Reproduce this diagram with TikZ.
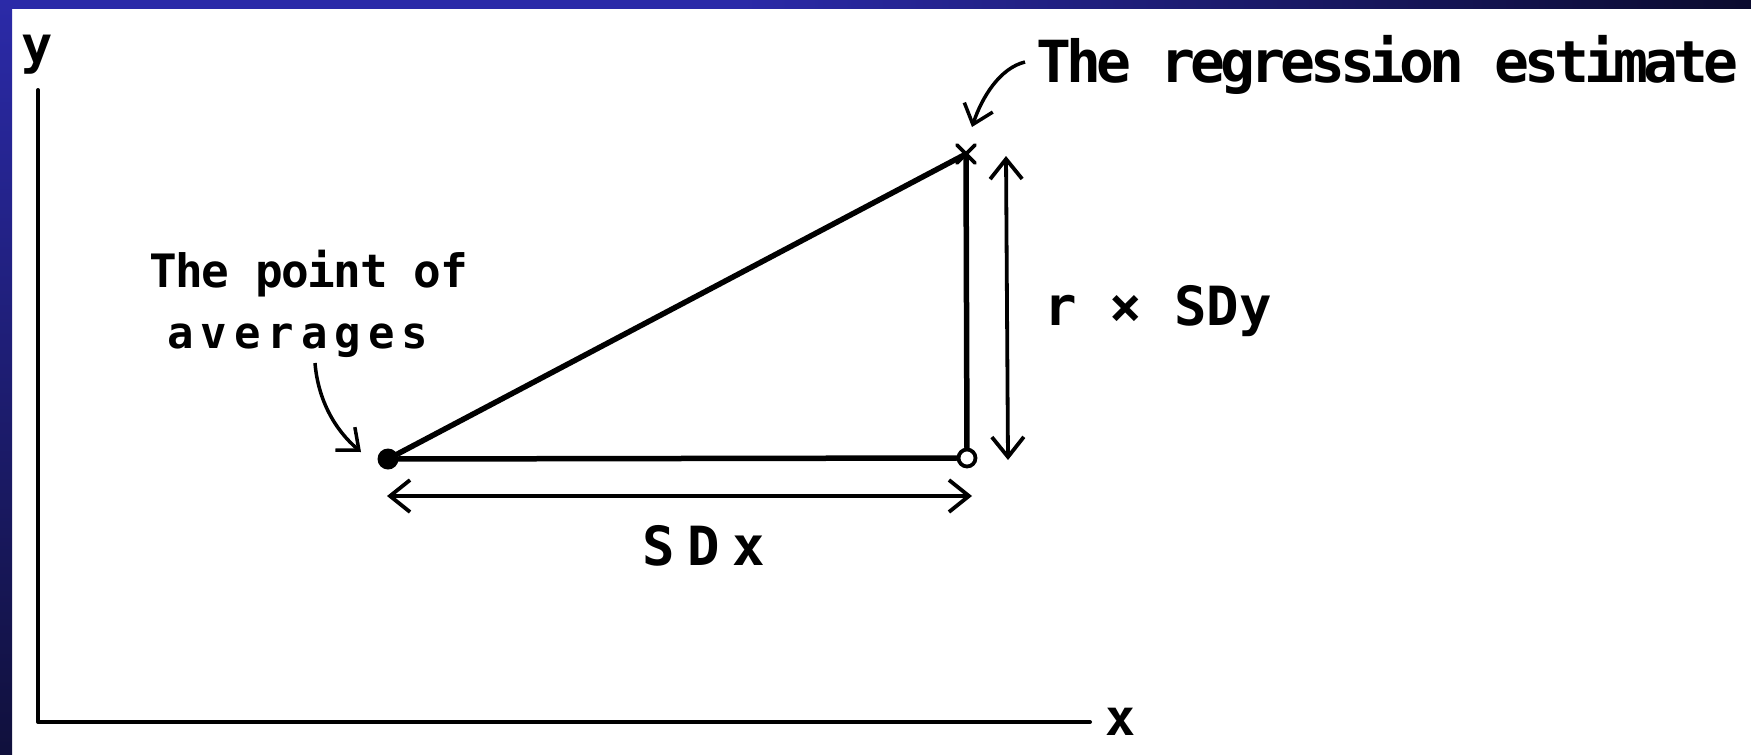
\documentclass[tikz,border=0pt]{standalone}
\usepackage{fontspec}
\newfontfamily\hand{DejaVu Sans Mono}
\usetikzlibrary{arrows.meta}
\definecolor{frameblue}{RGB}{43,42,168}
\definecolor{framenavy}{RGB}{11,11,46}
\definecolor{framedeep}{RGB}{16,16,60}
\pgfdeclarehorizontalshading{topbar}{100bp}{color(0bp)=(frameblue); color(25bp)=(frameblue); color(46bp)=(frameblue); color(75bp)=(framenavy); color(100bp)=(framenavy)}
\tikzset{
  ink/.style={line width=4pt, line cap=round, line join=round},
  tri/.style={line width=5.5pt, line cap=round},
  dimarrow/.style={line width=3.8pt, {Straight Barb[length=20pt,width=32pt]}-{Straight Barb[length=20pt,width=32pt]}},
  callout/.style={line width=3.5pt, -{Straight Barb[length=18pt,width=30pt]}},
  lbl/.style={inner sep=0pt, anchor=base west, text=black},
}
\begin{document}
\begin{tikzpicture}[x=1pt,y=-1pt]
\useasboundingbox (0,0) rectangle (1751,755);
% frame
\fill[white] (0,0) rectangle (1751,755);
\shade[shading=topbar] (0,0) rectangle (1751,8);
\shade[top color=frameblue, bottom color=framedeep] (0,0) rectangle (12,755);

% axes
\coordinate (ytop) at (38,90);
\coordinate (origin) at (38,722);
\coordinate (xend) at (1090,722);
\draw[ink] (ytop) -- (origin) -- (xend);
\node[lbl, font=\hand\bfseries\fontsize{52}{54}\selectfont] (ylab) at (21,63) {y};
\node[lbl, font=\hand\bfseries\fontsize{50}{54}\selectfont] (xlab) at (1105,735) {x};

% points
\node[circle, fill=black, minimum size=21pt, inner sep=0pt] (avg) at (388,459) {};
\node[circle, draw=black, line width=3.8pt, minimum size=17pt, inner sep=0pt] (foot) at (967,458) {};
\coordinate (est) at (966,154);

% triangle
\draw[tri] (avg) -- (est);
\draw[tri] (avg) -- (foot);
\draw[tri] (foot) -- (est);
% cross mark at estimate
\draw[line width=3.8pt, line cap=round] (957,145) -- (975,163) (975,145) -- (957,163);

% dimension arrows
\coordinate (hl) at (387,496);
\coordinate (hr) at (972,496);
\draw[dimarrow] (hl) -- (hr);
\coordinate (vt) at (1006,156);
\coordinate (vb) at (1008,460);
\draw[dimarrow] (vt) -- (vb);

% labels
\node[lbl, font=\hand\bfseries\fontsize{54}{58}\selectfont\addfontfeature{LetterSpace=23}] (sdx) at (642,565) {SDx};
\node[lbl, font=\hand\bfseries\fontsize{54}{58}\selectfont] (rsdy) at (1044,325) {r × SDy};
\node[lbl, font=\hand\bfseries\fontsize{58}{62}\selectfont\addfontfeature{LetterSpace=-8.7}] (reg) at (1036,82) {The regression estimate};
\node[lbl, font=\hand\bfseries\fontsize{46}{50}\selectfont\addfontfeature{LetterSpace=-3.3}] (poa1) at (149,287) {The point of};
\node[lbl, font=\hand\bfseries\fontsize{44}{50}\selectfont\addfontfeature{LetterSpace=16}] (poa2) at (167,348) {averages};

% callout arrows
\coordinate (regstart) at (1025,62);
\coordinate (regtip) at (972,127);
\draw[callout] (regstart) .. controls (1000,68) and (982,97) .. (regtip);
\coordinate (poastart) at (315,363);
\coordinate (poatip) at (361,452);
\draw[callout] (poastart) .. controls (318,400) and (335,430) .. (poatip);
\end{tikzpicture}
\end{document}
